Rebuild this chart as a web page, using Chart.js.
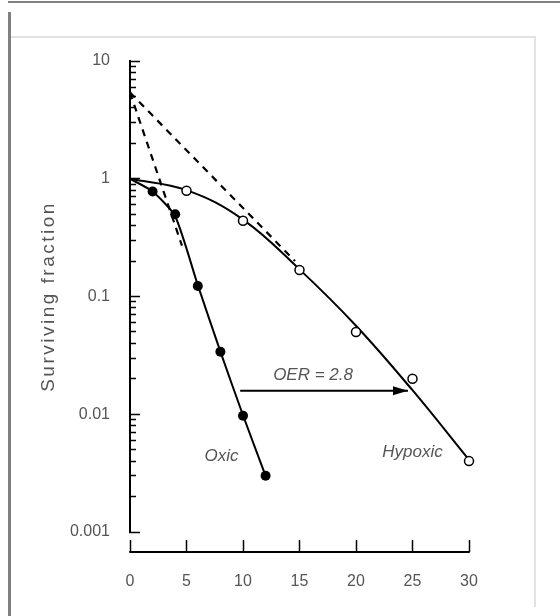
<!DOCTYPE html>
<html>
<head>
<meta charset="utf-8">
<script src="https://cdn.jsdelivr.net/npm/chart.js@4.4.1/dist/chart.umd.min.js"></script>
<style>
  html, body { margin: 0; padding: 0; background: #fff; }
  #wrap { position: relative; width: 560px; height: 616px; overflow: hidden; }
  #topBar { position: absolute; left: 8px; top: 1px; width: 552px; height: 2px; background: #808080; }
  #leftBar { position: absolute; left: 8px; top: 12px; width: 3px; height: 604px; background: #808080; }
  #frame { position: absolute; left: 11px; top: 36px; width: 525px; height: 571px;
           border-top: 2px solid #e2e2e2; border-right: 2px solid #e2e2e2; box-sizing: border-box; }
  canvas { position: absolute; left: 0; top: 0; }
</style>
</head>
<body>
<div id="wrap">
  <div id="topBar"></div>
  <div id="leftBar"></div>
  <div id="frame"></div>
  <canvas id="survivalChart" width="560" height="616"></canvas>
</div>

<script>
// DATA
const doseTicks = [0, 5, 10, 15, 20, 25, 30];
const yTickValues = [10, 1, 0.1, 0.01, 0.001];
const yTickLabels = ['10', '1', '0.1', '0.01', '0.001'];

const oxicDose = [2, 4, 6, 8, 10, 12];
const oxicSurv = [0.78, 0.5, 0.123, 0.034, 0.0097, 0.003];
const hypoxicDose = [5, 10, 15, 20, 25, 30];
const hypoxicSurv = [0.79, 0.44, 0.168, 0.05, 0.02, 0.004];

const oxicCurveDose = [0, 2, 4, 6, 8, 10, 12];
const oxicCurveSurv = [1, 0.78, 0.48, 0.125, 0.034, 0.0098, 0.003];
const hypoxicCurveDose = [0, 5, 10, 15, 20, 25, 30];
const hypoxicCurveSurv = [1, 0.8, 0.45, 0.17, 0.0565, 0.016, 0.0041];

const oxicExtrapDose = [0, 4.6];
const oxicExtrapSurv = [5.4, 0.27];
const hypoxicExtrapDose = [0, 14.6];
const hypoxicExtrapSurv = [5.4, 0.2];

const oerArrowDose = [9.75, 24.6];
const oerArrowSurv = [0.0158, 0.0158];

const noteTexts = ['OER = 2.8', 'Oxic', 'Hypoxic'];
const noteDose = [16.2, 8.1, 25.0];
const noteSurv = [0.0216, 0.0044, 0.0048];

const FONT = "'Liberation Sans', Arial, sans-serif";
const TEXT_GREY = '#555';

function pts(xs, ys) {
    return xs.map((x, i) => ({ x: x, y: ys[i] }));
}

function isDecade(v) {
    const l = Math.log10(v);
    return Math.abs(l - Math.round(l)) < 1e-6;
}

// arrow head, axis base line and the text notes
const extrasPlugin = {
    id: 'extras',
    afterDatasetsDraw(chart) {
        const ctx = chart.ctx;
        const x = chart.scales.x;
        const y = chart.scales.y;

        ctx.save();

        // x axis line sits under the tick marks
        const baseY = x.top + x.options.grid.tickLength;
        ctx.strokeStyle = '#000';
        ctx.lineWidth = 2;
        ctx.beginPath();
        ctx.moveTo(x.getPixelForValue(doseTicks[0]) - 0.75, baseY);
        ctx.lineTo(x.getPixelForValue(doseTicks[doseTicks.length - 1]) + 0.75, baseY);
        ctx.stroke();

        // arrow head
        const tipX = x.getPixelForValue(oerArrowDose[1]);
        const tipY = y.getPixelForValue(oerArrowSurv[1]);
        ctx.fillStyle = '#000';
        ctx.beginPath();
        ctx.moveTo(tipX, tipY);
        ctx.lineTo(tipX - 15, tipY - 4.5);
        ctx.lineTo(tipX - 15, tipY + 4.5);
        ctx.closePath();
        ctx.fill();

        // notes
        ctx.font = 'italic 17px ' + FONT;
        ctx.fillStyle = TEXT_GREY;
        ctx.textAlign = 'center';
        ctx.textBaseline = 'middle';
        noteTexts.forEach((t, i) => {
            ctx.fillText(t, x.getPixelForValue(noteDose[i]), y.getPixelForValue(noteSurv[i]));
        });

        ctx.restore();
    },
    afterLayout(chart) {
        // a bit of letter spacing on the y title, like the scan
        const s = chart.scales.y;
        if (s._spacedTitle) return;
        const orig = s.drawTitle.bind(s);
        s.drawTitle = function () {
            chart.ctx.save();
            chart.ctx.letterSpacing = '2.5px';
            orig();
            chart.ctx.restore();
        };
        s._spacedTitle = true;
    }
};

const ctx = document.getElementById('survivalChart');

new Chart(ctx, {
    type: 'scatter',
    data: {
        datasets: [
            {
                label: 'Oxic',
                data: pts(oxicDose, oxicSurv),
                pointRadius: 5,
                pointBackgroundColor: '#000',
                pointBorderColor: '#000',
                pointBorderWidth: 0,
                clip: false
            },
            {
                label: 'Hypoxic',
                data: pts(hypoxicDose, hypoxicSurv),
                pointRadius: 4.5,
                pointBackgroundColor: '#fff',
                pointBorderColor: '#000',
                pointBorderWidth: 1.5,
                clip: false
            },
            {
                label: 'Oxic fit',
                data: pts(oxicCurveDose, oxicCurveSurv),
                showLine: true,
                borderColor: '#000',
                borderWidth: 2,
                pointRadius: 0,
                tension: 0.2
            },
            {
                label: 'Hypoxic fit',
                data: pts(hypoxicCurveDose, hypoxicCurveSurv),
                showLine: true,
                borderColor: '#000',
                borderWidth: 2,
                pointRadius: 0,
                tension: 0.4
            },
            {
                label: 'Oxic extrapolation',
                data: pts(oxicExtrapDose, oxicExtrapSurv),
                showLine: true,
                borderColor: '#000',
                borderWidth: 2.2,
                borderDash: [7, 6],
                pointRadius: 0
            },
            {
                label: 'Hypoxic extrapolation',
                data: pts(hypoxicExtrapDose, hypoxicExtrapSurv),
                showLine: true,
                borderColor: '#000',
                borderWidth: 2.2,
                borderDash: [7, 6],
                pointRadius: 0
            },
            {
                label: 'OER arrow',
                data: pts(oerArrowDose, oerArrowSurv),
                showLine: true,
                borderColor: '#000',
                borderWidth: 2,
                pointRadius: 0
            }
        ]
    },
    options: {
        responsive: false,
        maintainAspectRatio: false,
        animation: false,
        layout: {
            padding: { left: 0, top: 61, right: 91, bottom: 24 }
        },
        plugins: {
            legend: { display: false },
            tooltip: { enabled: false }
        },
        scales: {
            x: {
                type: 'linear',
                min: 0,
                max: 30,
                border: { display: false },
                grid: {
                    drawOnChartArea: false,
                    tickLength: 20,
                    tickWidth: 1.5,
                    tickColor: '#000',
                    tickBorderDash: [0, 8, 12, 0]
                },
                ticks: {
                    stepSize: 5,
                    padding: 20,
                    color: TEXT_GREY,
                    font: { family: FONT, size: 16 }
                },
                afterFit: (s) => { s.height = 60; }
            },
            y: {
                type: 'logarithmic',
                position: 'left',
                min: 0.001,
                max: 10,
                border: { display: true, color: '#000', width: 2 },
                grid: {
                    drawOnChartArea: false,
                    tickLength: -10,
                    tickWidth: 1.5,
                    tickColor: '#000',
                    tickBorderDash: (c) => (c.tick && isDecade(c.tick.value)) ? [] : [0, 4, 6, 0]
                },
                ticks: {
                    autoSkip: false,
                    padding: 30,
                    color: TEXT_GREY,
                    font: { family: FONT, size: 16 },
                    callback: (value) => {
                        const i = yTickValues.findIndex(v => Math.abs(v - value) / v < 1e-6);
                        return i >= 0 ? yTickLabels[i] : '';
                    }
                },
                title: {
                    display: true,
                    text: 'Surviving fraction',
                    color: TEXT_GREY,
                    font: { family: FONT, size: 19 },
                    padding: { top: 37, bottom: 0 }
                },
                afterBuildTicks: (scale) => {
                    scale.ticks = scale.ticks.filter(t => {
                        const m = t.value / Math.pow(10, Math.floor(Math.log10(t.value) + 1e-9));
                        return Math.abs(m - Math.round(m)) < 1e-6;
                    });
                },
                afterFit: (s) => { s.width = 130; }
            }
        }
    },
    plugins: [extrasPlugin]
});
</script>
</body>
</html>
